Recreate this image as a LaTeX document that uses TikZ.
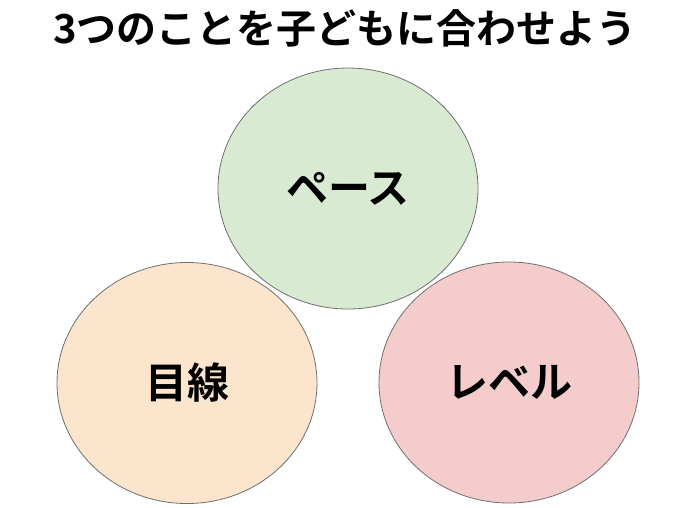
\documentclass[tikz,border=0pt]{standalone}
\usepackage{fontspec}
\newfontfamily\jpbold{Noto Sans CJK JP Bold}
\usetikzlibrary{shapes.geometric}
\definecolor{cgreen}{HTML}{D9EAD3}
\definecolor{corange}{HTML}{FCE5CD}
\definecolor{cpink}{HTML}{F4CCCC}
\definecolor{cline}{HTML}{707070}
\tikzset{
  bubble/.style={ellipse, draw=cline, line width=0.8pt, minimum width=260pt, minimum height=241pt, inner sep=0pt, font=\jpbold\fontsize{42}{44}\selectfont},
  titletext/.style={font=\jpbold\fontsize{40}{44}\selectfont, inner sep=0pt}
}
\begin{document}
\begin{tikzpicture}[x=1pt,y=-1pt]
\useasboundingbox[fill=white] (0,0) rectangle (695,507);
\node[titletext] (title) at (345,28) {3つのことを子どもに合わせよう};
\node[bubble, fill=corange] (eye) at (187,383) {目線};
\node[bubble, fill=cpink] (level) at (509,382.5) {レベル};
\node[bubble, fill=cgreen] (pace) at (348,188.5) {ペース};
\end{tikzpicture}
\end{document}
